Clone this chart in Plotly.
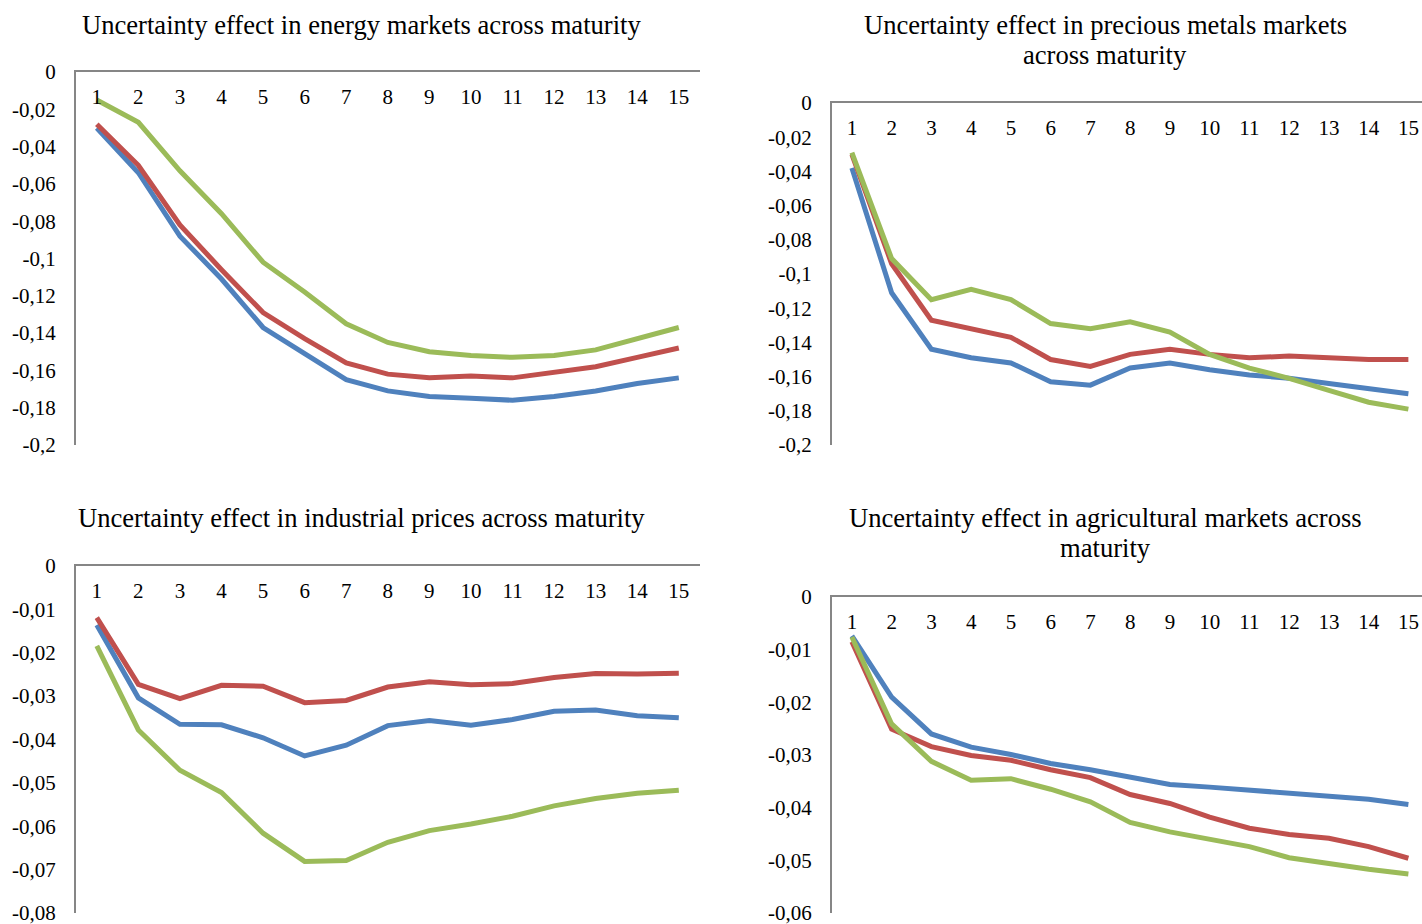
import plotly.graph_objects as go

W, H = 1422, 924

maturity = list(range(1, 16))
x_labels = [str(m) for m in maturity]

# Energy markets
energy_blue = [-0.030, -0.054, -0.088, -0.111, -0.137, -0.151, -0.165, -0.171, -0.174, -0.175, -0.176, -0.174, -0.171, -0.167, -0.164]
energy_red = [-0.028, -0.050, -0.082, -0.106, -0.129, -0.143, -0.156, -0.162, -0.164, -0.163, -0.164, -0.161, -0.158, -0.153, -0.148]
energy_green = [-0.015, -0.027, -0.053, -0.076, -0.102, -0.118, -0.135, -0.145, -0.150, -0.152, -0.153, -0.152, -0.149, -0.143, -0.137]

# Precious metals markets
metals_blue = [-0.038, -0.111, -0.144, -0.149, -0.152, -0.163, -0.165, -0.155, -0.152, -0.156, -0.159, -0.161, -0.164, -0.167, -0.170]
metals_red = [-0.030, -0.094, -0.127, -0.132, -0.137, -0.150, -0.154, -0.147, -0.144, -0.147, -0.149, -0.148, -0.149, -0.150, -0.150]
metals_green = [-0.029, -0.091, -0.115, -0.109, -0.115, -0.129, -0.132, -0.128, -0.134, -0.147, -0.155, -0.161, -0.168, -0.175, -0.179]

# Industrial prices
indus_blue = [-0.0136, -0.0304, -0.0365, -0.0366, -0.0396, -0.0438, -0.0413, -0.0368, -0.0356, -0.0367, -0.0354, -0.0335, -0.0332, -0.0345, -0.0350]
indus_red = [-0.0119, -0.0273, -0.0306, -0.0275, -0.0277, -0.0315, -0.0310, -0.0279, -0.0267, -0.0274, -0.0271, -0.0257, -0.0248, -0.0249, -0.0247]
indus_green = [-0.0184, -0.0378, -0.0471, -0.0522, -0.0616, -0.0681, -0.0679, -0.0637, -0.0610, -0.0595, -0.0577, -0.0553, -0.0536, -0.0524, -0.0517]

# Agricultural markets
agri_blue = [-0.0074, -0.0190, -0.0260, -0.0285, -0.0299, -0.0316, -0.0328, -0.0343, -0.0356, -0.0361, -0.0367, -0.0372, -0.0377, -0.0384, -0.0394]
agri_red = [-0.0085, -0.0251, -0.0284, -0.0301, -0.0310, -0.0328, -0.0343, -0.0375, -0.0392, -0.0418, -0.0439, -0.0451, -0.0458, -0.0474, -0.0496]
agri_green = [-0.0076, -0.0241, -0.0312, -0.0348, -0.0345, -0.0365, -0.0389, -0.0428, -0.0446, -0.0459, -0.0474, -0.0495, -0.0507, -0.0517, -0.0526]

# Y tick values / labels
y_ticks_02 = [0, -0.02, -0.04, -0.06, -0.08, -0.1, -0.12, -0.14, -0.16, -0.18, -0.2]
y_labels_02 = ["0", "-0,02", "-0,04", "-0,06", "-0,08", "-0,1", "-0,12", "-0,14", "-0,16", "-0,18", "-0,2"]
y_ticks_08 = [0, -0.01, -0.02, -0.03, -0.04, -0.05, -0.06, -0.07, -0.08]
y_labels_08 = ["0", "-0,01", "-0,02", "-0,03", "-0,04", "-0,05", "-0,06", "-0,07", "-0,08"]
y_ticks_06 = [0, -0.01, -0.02, -0.03, -0.04, -0.05, -0.06]
y_labels_06 = ["0", "-0,01", "-0,02", "-0,03", "-0,04", "-0,05", "-0,06"]

titles = [
    ["Uncertainty effect in energy markets across maturity"],
    ["Uncertainty effect in precious metals markets", "across maturity"],
    ["Uncertainty effect in industrial prices across maturity"],
    ["Uncertainty effect in agricultural markets across", "maturity"],
]

colors = ["#4F81BD", "#C0504D", "#9BBB59"]
FONT = "Liberation Serif, Times New Roman, serif"
AXC = "#868686"
TICK_SIZE = 21

# pixel geometry of each panel
panels = [
    dict(series=[energy_blue, energy_red, energy_green], yt=y_ticks_02, yl=y_labels_02, yr=[-0.2, 0],
         px=(76, 699.6), py=(72, 445), xmax=15.5, tx=361.5, ty=[25], ly=97),
    dict(series=[metals_blue, metals_red, metals_green], yt=y_ticks_02, yl=y_labels_02, yr=[-0.2, 0],
         px=(832, 1422), py=(103, 445), xmax=0.5 + (1422 - 832) / 39.75, tx=1105, ty=[25, 55], ly=128),
    dict(series=[indus_blue, indus_red, indus_green], yt=y_ticks_08, yl=y_labels_08, yr=[-0.08, 0],
         px=(76, 699.6), py=(566, 913), xmax=15.5, tx=361.5, ty=[518], ly=591),
    dict(series=[agri_blue, agri_red, agri_green], yt=y_ticks_06, yl=y_labels_06, yr=[-0.06, 0],
         px=(832, 1422), py=(597, 913), xmax=0.5 + (1422 - 832) / 39.75, tx=1105, ty=[518, 548], ly=622),
]


def fx(p):
    return p / W


def fy(p):
    return 1 - p / H


fig = go.Figure()
layout = dict(
    width=W, height=H, margin=dict(l=0, r=0, t=0, b=0, autoexpand=False),
    paper_bgcolor="white", plot_bgcolor="white", showlegend=False,
    font=dict(family=FONT, color="black"), separators=", ",
)
annotations = []
names = ["Series 1", "Series 2", "Series 3"]
for i, p in enumerate(panels, start=1):
    sfx = "" if i == 1 else str(i)
    lab = str(i + 4)
    for s, c, n in zip(p["series"], colors, names):
        fig.add_trace(go.Scatter(x=maturity, y=s, mode="lines", name=n,
                                 line=dict(color=c, width=5),
                                 xaxis="x" + sfx, yaxis="y" + sfx, hoverinfo="x+y"))
    # placeholder trace so the label axis gets a subplot
    fig.add_trace(go.Scatter(x=[None], y=[None], mode="lines", xaxis="x" + lab, yaxis="y" + sfx,
                             hoverinfo="skip", showlegend=False))
    dom = [fx(p["px"][0]), min(fx(p["px"][1]), 1)]
    layout["xaxis" + sfx] = dict(
        domain=dom, range=[0.5, p["xmax"]],
        anchor="y" + sfx, side="top", showline=True, linecolor=AXC, linewidth=2,
        showgrid=False, zeroline=False, showticklabels=False, ticks="", automargin=False, fixedrange=True,
    )
    # tick labels of the x axis, placed just below the top axis line
    layout["xaxis" + lab] = dict(
        domain=dom, range=[0.5, p["xmax"]], overlaying="x" + sfx, anchor="free",
        position=fy(p["ly"] + 11), side="top", showline=False, showgrid=False, zeroline=False,
        tickmode="array", tickvals=maturity, ticktext=x_labels, ticks="", ticklabelstandoff=0,
        automargin=False, fixedrange=True, tickfont=dict(family=FONT, size=TICK_SIZE, color="black"),
    )
    layout["yaxis" + sfx] = dict(
        domain=[fy(p["py"][1]), fy(p["py"][0])], range=p["yr"],
        anchor="x" + sfx, showline=True, linecolor=AXC, linewidth=2,
        showgrid=False, zeroline=False, tickmode="array", tickvals=p["yt"], ticktext=p["yl"],
        ticks="", ticklabelstandoff=14, automargin=False, ticklabeloverflow="allow",
        tickfont=dict(family=FONT, size=TICK_SIZE, color="black"), fixedrange=True,
    )
    for line, ty in zip(titles[i - 1], p["ty"]):
        annotations.append(dict(text=line, xref="paper", yref="paper", x=fx(p["tx"]), y=fy(ty),
                                xanchor="center", yanchor="middle", showarrow=False,
                                font=dict(family=FONT, size=26.6, color="black")))
layout["annotations"] = annotations
fig.update_layout(**layout)
fig.write_html(
    "out.html",
    config={"displayModeBar": False},
    post_script="document.body.style.margin='0';document.body.style.overflow='hidden';",
)
